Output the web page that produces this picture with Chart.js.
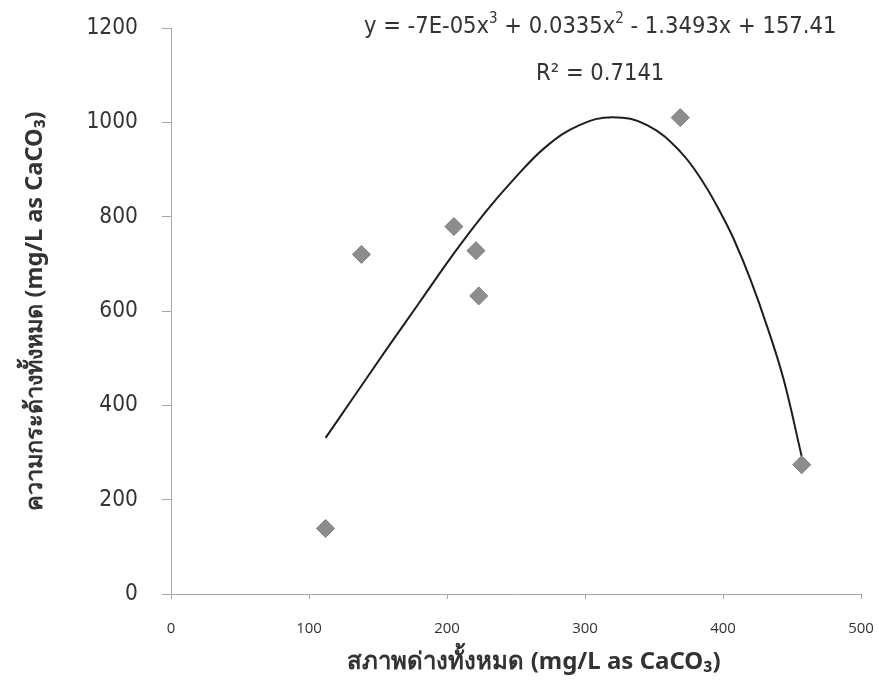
<!DOCTYPE html>
<html>
<head>
<meta charset="utf-8">
<script src="https://cdn.jsdelivr.net/npm/chart.js@4"></script>
<style>
  html, body { margin: 0; padding: 0; background: #fff; }
  #wrap { width: 879px; height: 685px; }
</style>
</head>
<body>
<div id="wrap"><canvas id="c" width="879" height="685"></canvas></div>
<script>
// Observed points: total alkalinity (x) vs total hardness (y)
const alkalinity = [112, 138, 205, 221, 223, 369, 457];
const hardness = [139, 720, 779, 728, 632, 1010, 274];

// Trend line
const trendX = [112, 132, 156, 180, 205, 228, 248, 272, 296, 320, 345, 369, 386, 399, 408, 420, 432, 444, 457];
const trendY = [331, 416, 518, 618, 722, 810, 878, 949, 994, 1011, 994, 938, 871, 804, 751, 666, 567, 454, 292];

const xTicks = [0, 100, 200, 300, 400, 500];
const yTicks = [0, 200, 400, 600, 800, 1000, 1200];

const xTitle = '\u2002\u2002\u2002สภาพด่างทั้งหมด (mg/L as CaCO₃)';
const yTitle = 'ความกระด้างทั้งหมด (mg/L as CaCO₃)';
const eqParts = [['y = -7E-05x', false], ['3', true], [' + 0.0335x', false], ['2', true], [' - 1.3493x + 157.41', false]];
const r2Text = 'R² = 0.7141';

const numFont = '"DejaVu Sans Condensed", "Open Sans", sans-serif';

const eqPlugin = {
  id: 'eqText',
  afterDraw(chart) {
    const ctx = chart.ctx;
    const xs = chart.scales.x, ys = chart.scales.y;
    const cx = xs.getPixelForValue(311);
    ctx.save();
    ctx.fillStyle = '#333';
    ctx.textBaseline = 'alphabetic';
    const big = '23.5px ' + numFont, small = '15px ' + numFont;
    let total = 0;
    for (const [t, sup] of eqParts) { ctx.font = sup ? small : big; total += ctx.measureText(t).width; }
    let x = cx - total / 2;
    const base = ys.getPixelForValue(1200) + 5;
    for (const [t, sup] of eqParts) {
      ctx.font = sup ? small : big;
      ctx.textAlign = 'left';
      ctx.fillText(t, x, sup ? base - 10 : base);
      x += ctx.measureText(t).width;
    }
    ctx.font = big;
    ctx.textAlign = 'center';
    ctx.fillText(r2Text, cx, ys.getPixelForValue(1200) + 52);
    ctx.restore();
  }
};

function noPad(s) { s.paddingTop = 0; s.paddingBottom = 0; s.paddingLeft = 0; s.paddingRight = 0; }

new Chart(document.getElementById('c'), {
  type: 'scatter',
  data: {
    datasets: [
      {
        type: 'line',
        data: trendX.map((v, i) => ({x: v, y: trendY[i]})),
        borderColor: '#1e1e1e',
        borderWidth: 2,
        pointRadius: 0,
        fill: false,
        tension: 0.4,
        order: 2
      },
      {
        data: alkalinity.map((v, i) => ({x: v, y: hardness[i]})),
        pointStyle: 'rectRot',
        pointRadius: 9,
        backgroundColor: '#8d8d8d',
        borderColor: '#7d7d7d',
        borderWidth: 1,
        order: 1
      }
    ]
  },
  options: {
    responsive: false,
    animation: false,
    layout: { padding: { left: 0, right: 18, top: 28, bottom: 0 } },
    plugins: { legend: { display: false }, tooltip: { enabled: false } },
    scales: {
      x: {
        type: 'linear',
        min: 0, max: 500,
        afterBuildTicks(s) { s.ticks = xTicks.map(v => ({value: v})); },
        afterFit(s) { s.height = 91; noPad(s); },
        grid: { drawOnChartArea: false, drawTicks: true, tickLength: 5, color: '#a8a8a8' },
        border: { display: true, color: '#a8a8a8', width: 1 },
        ticks: { color: '#333', padding: 21, font: { family: '"Open Sans", sans-serif', size: 15 },
                 callback: v => String(v) },
        title: { display: true, text: xTitle, color: '#333', padding: { top: 0, bottom: 8 },
                 font: { family: '"Noto Sans", "DejaVu Sans", sans-serif', size: 24, weight: 'bold' } }
      },
      y: {
        type: 'linear',
        min: 0, max: 1200,
        afterBuildTicks(s) { s.ticks = yTicks.map(v => ({value: v})); },
        afterFit(s) { s.width = 171; noPad(s); },
        grid: { drawOnChartArea: false, drawTicks: true, tickLength: 9, color: '#a8a8a8' },
        border: { display: true, color: '#a8a8a8', width: 1 },
        ticks: { color: '#333', padding: 24, font: { family: numFont, size: 22.5 },
                 callback: v => String(v) },
        title: { display: true, text: yTitle, color: '#333', padding: { top: 21, bottom: 0 },
                 font: { family: '"Noto Sans", "DejaVu Sans", sans-serif', size: 23.5, weight: 'bold' } }
      }
    }
  },
  plugins: [eqPlugin]
});
</script>
</body>
</html>
